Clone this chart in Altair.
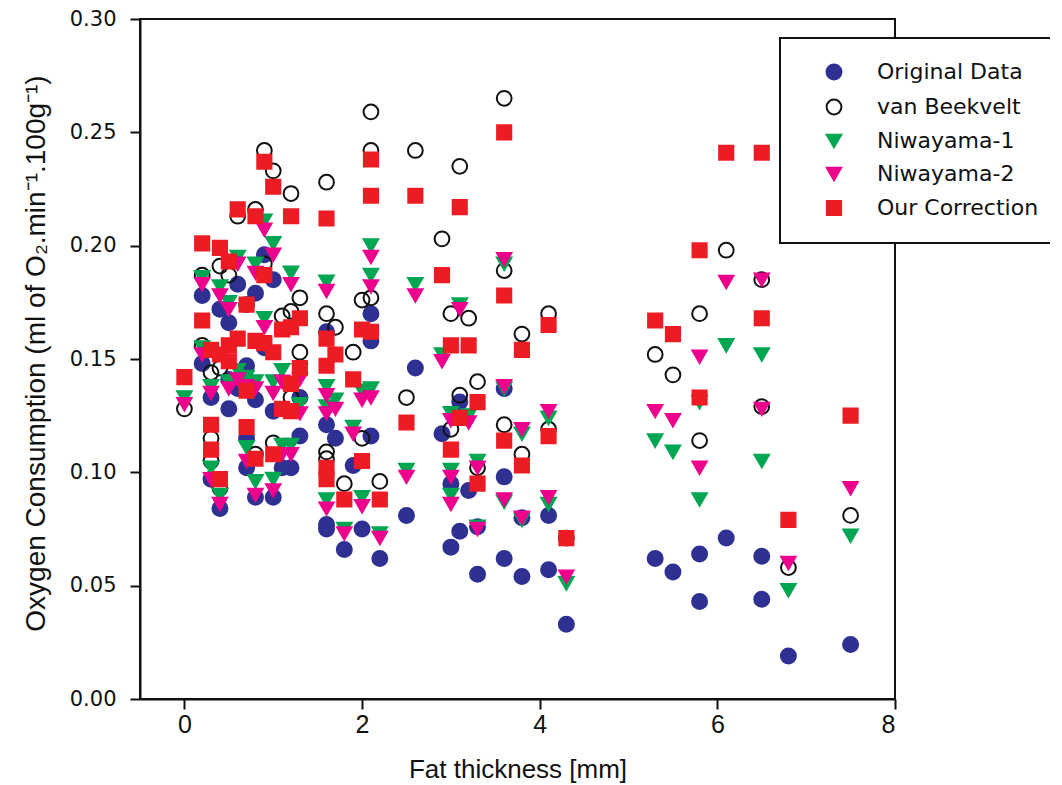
import altair as alt
import pandas as pd

series_names = ["Original Data", "van Beekvelt", "Niwayama-1", "Niwayama-2", "Our Correction"]

orig_x = [0.2, 0.2, 0.3, 0.3, 0.4, 0.4, 0.5, 0.5, 0.5, 0.6, 0.6, 0.7, 0.7, 0.7, 0.8, 0.8, 0.8, 0.9, 0.9,
          1.0, 1.0, 1.0, 1.1, 1.2, 1.3, 1.3, 1.6, 1.6, 1.6, 1.6, 1.7, 1.8, 1.9, 2.0, 2.1, 2.1, 2.1, 2.2,
          2.5, 2.6, 2.9, 3.0, 3.0, 3.1, 3.1, 3.2, 3.3, 3.3, 3.6, 3.6, 3.6, 3.8, 3.8, 4.1, 4.1, 4.3,
          5.3, 5.5, 5.8, 5.8, 6.1, 6.5, 6.5, 6.8, 7.5]
orig_y = [0.178, 0.148, 0.133, 0.097, 0.172, 0.084, 0.166, 0.141, 0.128, 0.183, 0.137, 0.147, 0.115, 0.102,
          0.179, 0.132, 0.089, 0.196, 0.155, 0.185, 0.127, 0.089, 0.102, 0.102, 0.133, 0.116, 0.162, 0.121,
          0.077, 0.075, 0.115, 0.066, 0.103, 0.075, 0.170, 0.158, 0.116, 0.062, 0.081, 0.146, 0.117, 0.095,
          0.067, 0.131, 0.074, 0.092, 0.076, 0.055, 0.137, 0.098, 0.062, 0.080, 0.054, 0.081, 0.057, 0.033,
          0.062, 0.056, 0.064, 0.043, 0.071, 0.063, 0.044, 0.019, 0.024]

vb_x = [0.0, 0.2, 0.2, 0.3, 0.3, 0.3, 0.4, 0.4, 0.4, 0.5, 0.6, 0.7, 0.8, 0.8, 0.9, 0.9, 1.0, 1.0, 1.1, 1.2,
        1.2, 1.2, 1.3, 1.3, 1.6, 1.6, 1.6, 1.6, 1.7, 1.8, 1.9, 2.0, 2.0, 2.1, 2.1, 2.1, 2.2, 2.5, 2.6, 2.9,
        3.0, 3.0, 3.1, 3.1, 3.2, 3.3, 3.3, 3.6, 3.6, 3.6, 3.8, 3.8, 4.1, 4.1, 4.3, 5.3, 5.5, 5.8, 5.8, 6.1,
        6.5, 6.5, 6.8, 7.5]
vb_y = [0.128, 0.187, 0.156, 0.144, 0.115, 0.105, 0.191, 0.146, 0.093, 0.187, 0.213, 0.174, 0.216, 0.108,
        0.242, 0.192, 0.233, 0.113, 0.169, 0.223, 0.171, 0.133, 0.177, 0.153, 0.228, 0.170, 0.109, 0.106,
        0.164, 0.095, 0.153, 0.176, 0.115, 0.259, 0.242, 0.177, 0.096, 0.133, 0.242, 0.203, 0.170, 0.119,
        0.235, 0.134, 0.168, 0.140, 0.102, 0.265, 0.189, 0.121, 0.161, 0.108, 0.170, 0.119, 0.071, 0.152,
        0.143, 0.170, 0.114, 0.198, 0.185, 0.129, 0.058, 0.081]

n_x = [0.0, 0.2, 0.2, 0.3, 0.3, 0.4, 0.4, 0.5, 0.5, 0.6, 0.6, 0.7, 0.7, 0.8, 0.8, 0.8, 0.9, 0.9, 1.0, 1.0,
       1.0, 1.1, 1.1, 1.2, 1.2, 1.3, 1.3, 1.6, 1.6, 1.6, 1.6, 1.7, 1.8, 1.9, 2.0, 2.0, 2.1, 2.1, 2.1, 2.2,
       2.5, 2.6, 2.9, 3.0, 3.0, 3.0, 3.1, 3.2, 3.3, 3.3, 3.6, 3.6, 3.6, 3.8, 3.8, 4.1, 4.1, 4.3, 5.3, 5.5,
       5.8, 5.8, 6.1, 6.5, 6.5, 6.8, 7.5]
n1_y = [0.133, 0.186, 0.155, 0.138, 0.102, 0.182, 0.090, 0.175, 0.140, 0.195, 0.145, 0.142, 0.111, 0.192,
        0.140, 0.096, 0.211, 0.168, 0.201, 0.140, 0.097, 0.145, 0.112, 0.188, 0.112, 0.145, 0.130, 0.184,
        0.138, 0.129, 0.088, 0.132, 0.075, 0.120, 0.136, 0.089, 0.200, 0.187, 0.137, 0.073, 0.101, 0.183,
        0.152, 0.126, 0.101, 0.090, 0.174, 0.125, 0.105, 0.076, 0.192, 0.137, 0.087, 0.117, 0.079, 0.124,
        0.086, 0.051, 0.114, 0.109, 0.131, 0.088, 0.156, 0.152, 0.105, 0.048, 0.072]
n2_y = [0.130, 0.183, 0.152, 0.135, 0.097, 0.178, 0.086, 0.172, 0.137, 0.192, 0.141, 0.138, 0.105, 0.188,
        0.137, 0.090, 0.207, 0.164, 0.196, 0.135, 0.092, 0.140, 0.108, 0.183, 0.108, 0.141, 0.126, 0.180,
        0.134, 0.126, 0.084, 0.128, 0.073, 0.117, 0.132, 0.085, 0.195, 0.182, 0.133, 0.071, 0.098, 0.178,
        0.149, 0.123, 0.098, 0.086, 0.172, 0.122, 0.102, 0.075, 0.194, 0.138, 0.088, 0.119, 0.080, 0.127,
        0.089, 0.054, 0.127, 0.123, 0.151, 0.102, 0.184, 0.185, 0.128, 0.060, 0.093]

corr_x = [0.0, 0.2, 0.2, 0.3, 0.3, 0.3, 0.4, 0.4, 0.4, 0.5, 0.5, 0.5, 0.6, 0.6, 0.7, 0.7, 0.7, 0.8, 0.8,
          0.8, 0.9, 0.9, 0.9, 1.0, 1.0, 1.0, 1.1, 1.1, 1.2, 1.2, 1.2, 1.2, 1.3, 1.3, 1.6, 1.6, 1.6, 1.6,
          1.6, 1.7, 1.8, 1.9, 2.0, 2.0, 2.1, 2.1, 2.1, 2.2, 2.5, 2.6, 2.9, 3.0, 3.0, 3.1, 3.1, 3.2, 3.3,
          3.3, 3.6, 3.6, 3.6, 3.8, 3.8, 4.1, 4.1, 4.3, 5.3, 5.5, 5.8, 5.8, 6.1, 6.5, 6.5, 6.8, 7.5]
corr_y = [0.142, 0.201, 0.167, 0.154, 0.121, 0.110, 0.199, 0.152, 0.097, 0.193, 0.156, 0.149, 0.216, 0.159,
          0.174, 0.136, 0.120, 0.213, 0.158, 0.106, 0.237, 0.187, 0.157, 0.226, 0.153, 0.108, 0.163, 0.128,
          0.213, 0.164, 0.139, 0.127, 0.168, 0.146, 0.212, 0.159, 0.147, 0.102, 0.097, 0.152, 0.088, 0.141,
          0.163, 0.105, 0.238, 0.222, 0.162, 0.088, 0.122, 0.222, 0.187, 0.156, 0.110, 0.217, 0.124, 0.156,
          0.131, 0.095, 0.250, 0.178, 0.114, 0.154, 0.103, 0.165, 0.116, 0.071, 0.167, 0.161, 0.198, 0.133,
          0.241, 0.241, 0.168, 0.079, 0.125]

x_ticks = [0, 2, 4, 6, 8]
y_ticks = [0.0, 0.05, 0.10, 0.15, 0.20, 0.25, 0.30]

groups = [
    (series_names[0], orig_x, orig_y),
    (series_names[1], vb_x, vb_y),
    (series_names[2], n_x, n1_y),
    (series_names[3], n_x, n2_y),
    (series_names[4], corr_x, corr_y),
]
rows = []
for k, (name, xs, ys) in enumerate(groups):
    for xv, yv in zip(xs, ys):
        rows.append({"series": name, "fat": xv, "vo2": yv, "k": k})
df = pd.DataFrame(rows)

NAVY = "#2E3192"
GREEN = "#00A651"
MAGENTA = "#EC008C"
RED = "#ED1C24"

leg = alt.Legend(title=None, orient="none", legendX=640, legendY=19)

chart = alt.Chart(df).mark_point(opacity=1, strokeWidth=2).encode(
    x=alt.X("fat:Q",
            scale=alt.Scale(domain=[-0.5, 8], nice=False, zero=False),
            axis=alt.Axis(values=x_ticks, title="Fat thickness [mm]", format="d",
                          labelFont="Liberation Sans", labelFontSize=25, labelPadding=3,
                          titleFont="Liberation Sans", titleFontSize=26, titleFontWeight="normal",
                          titleY=70, titleBaseline="middle")),
    y=alt.Y("vo2:Q",
            scale=alt.Scale(domain=[0, 0.3], nice=False),
            axis=alt.Axis(values=y_ticks, format=".2f",
                          title="Oxygen Consumption (ml of O\u2082.min\u207b\u00b9.100g\u207b\u00b9)",
                          labelFont="DejaVu Sans", labelFontSize=21, labelPadding=14,
                          titleFont="Liberation Sans", titleFontSize=28, titleFontWeight="normal",
                          titleX=-104, titleY=334, titleBaseline="middle")),
    shape=alt.Shape("series:N", scale=alt.Scale(domain=series_names,
                    range=["circle", "circle", "triangle-down", "triangle-down", "square"]), legend=leg),
    fill=alt.Fill("series:N", scale=alt.Scale(domain=series_names,
                  range=[NAVY, "transparent", GREEN, MAGENTA, RED]), legend=leg),
    stroke=alt.Stroke("series:N", scale=alt.Scale(domain=series_names,
                      range=[NAVY, "#111111", GREEN, MAGENTA, RED]), legend=leg),
    size=alt.Size("series:N", scale=alt.Scale(domain=series_names,
                  range=[225, 200, 290, 290, 215]), legend=leg),
    order=alt.Order("k:Q"),
).properties(
    width=755, height=680,
    autosize=alt.AutoSizeParams(type="none"),
    padding={"left": 132, "top": 11, "right": 155, "bottom": 85},
).configure_view(
    stroke="#111111", strokeWidth=2
).configure_axis(
    grid=False, domainColor="#111111", domainWidth=2, tickColor="#111111", tickWidth=2, tickSize=10,
    labelColor="#111111", titleColor="#111111"
).configure_legend(
    labelFont="DejaVu Sans", labelFontSize=22, labelColor="#111111", labelLimit=400,
    padding=23, symbolOffset=20, labelOffset=32, rowPadding=11,
    strokeColor="#111111", strokeWidth=2, fillColor="white",
    symbolStrokeWidth=2
)

chart.save("out.html", embed_options={"renderer": "svg", "actions": False})
